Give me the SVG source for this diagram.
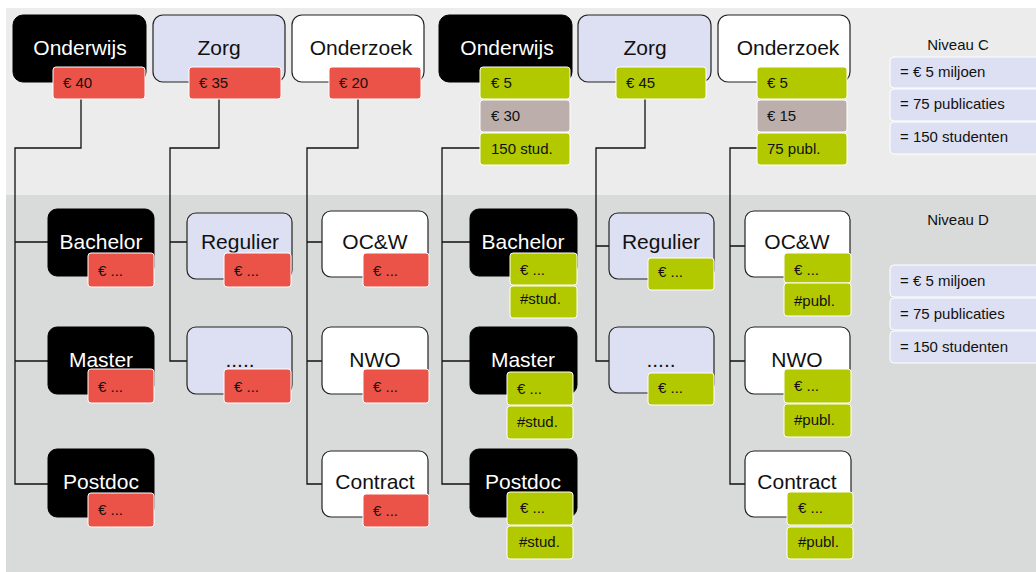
<svg xmlns="http://www.w3.org/2000/svg" width="1036" height="572" viewBox="0 0 1036 572">
<style>
text{font-family:"Liberation Sans",Arial,sans-serif;fill:#111}
.t{font-size:21px;text-anchor:middle}
.tw{fill:#fff}
.s{font-size:15px}
.h{font-size:15px;text-anchor:middle}
.blk{fill:#000;stroke:#000;stroke-width:1}
.lav{fill:#dde0f3;stroke:#222;stroke-width:1.2}
.wht{fill:#fff;stroke:#222;stroke-width:1.2}
.red{fill:#eb5248;stroke:#fff;stroke-width:1}
.grn{fill:#b2c900;stroke:#fff;stroke-width:1}
.gry{fill:#bcafab;stroke:#fff;stroke-width:1}
.leg{fill:#dde0f3;stroke:#fff;stroke-width:1}
#connectors path{fill:none;stroke:#111;stroke-width:1.3}
</style>
<rect x="0" y="0" width="1036" height="572" fill="#fff"/>
<rect x="6" y="8" width="1030" height="187" fill="#ececec"/>
<rect x="6" y="195" width="1030" height="377" fill="#d9dbda"/>
<g id="connectors">
<path d="M81 99V148H15V484H48M15 242H48M15 361H48"/>
<path d="M219 99V148H170V361H187M170 242H187"/>
<path d="M358 99V148H307V484H322M307 242H322M307 361H322"/>
<path d="M480 148H442V484H470M442 242H470M442 361H470"/>
<path d="M645 99V148H596V361H609M596 246H609"/>
<path d="M757 148H730V484H745M730 246H745M730 361H745"/>
</g>
<g id="c-onderwijs1"><rect class="blk" x="13" y="15" width="133" height="67" rx="10"/><text class="t tw" x="80" y="55">Onderwijs</text><rect class="red" x="53" y="67" width="92" height="32" rx="3"/><text class="s" x="63" y="88">€ 40</text></g>
<g id="c-zorg1"><rect class="lav" x="153" y="15" width="132" height="67" rx="10"/><text class="t" x="219" y="55">Zorg</text><rect class="red" x="189" y="67" width="92" height="32" rx="3"/><text class="s" x="199" y="88">€ 35</text></g>
<g id="c-onderzoek1"><rect class="wht" x="292" y="15" width="132" height="67" rx="10"/><text class="t" x="361" y="55">Onderzoek</text><rect class="red" x="329" y="67" width="92" height="32" rx="3"/><text class="s" x="339" y="88">€ 20</text></g>
<g id="c-onderwijs2"><rect class="blk" x="439" y="15" width="133" height="67" rx="10"/><text class="t tw" x="507" y="55">Onderwijs</text><rect class="grn" x="480" y="67" width="90" height="32" rx="3"/><text class="s" x="491" y="88">€ 5</text><rect class="gry" x="480" y="100" width="90" height="32" rx="3"/><text class="s" x="491" y="121">€ 30</text><rect class="grn" x="480" y="133" width="90" height="32" rx="3"/><text class="s" x="491" y="154">150 stud.</text></g>
<g id="c-zorg2"><rect class="lav" x="578" y="15" width="133" height="67" rx="10"/><text class="t" x="645" y="55">Zorg</text><rect class="grn" x="616" y="67" width="90" height="32" rx="3"/><text class="s" x="626" y="88">€ 45</text></g>
<g id="c-onderzoek2"><rect class="wht" x="718" y="15" width="132" height="67" rx="10"/><text class="t" x="788" y="55">Onderzoek</text><rect class="grn" x="757" y="67" width="90" height="32" rx="3"/><text class="s" x="767" y="88">€ 5</text><rect class="gry" x="757" y="100" width="90" height="32" rx="3"/><text class="s" x="767" y="121">€ 15</text><rect class="grn" x="757" y="133" width="90" height="32" rx="3"/><text class="s" x="767" y="154">75 publ.</text></g>
<g id="legend-c"><text class="h" x="958" y="50">Niveau C</text><rect class="leg" x="890" y="57" width="152" height="31" rx="4"/><text class="s" x="900" y="77">= € 5 miljoen</text><rect class="leg" x="890" y="89" width="152" height="32" rx="4"/><text class="s" x="900" y="109">= 75 publicaties</text><rect class="leg" x="890" y="122" width="152" height="32" rx="4"/><text class="s" x="900" y="142">= 150 studenten</text></g>
<g id="legend-d"><text class="h" x="958" y="225">Niveau D</text><rect class="leg" x="890" y="265" width="152" height="32" rx="4"/><text class="s" x="900" y="286">= € 5 miljoen</text><rect class="leg" x="890" y="298" width="152" height="32" rx="4"/><text class="s" x="900" y="319">= 75 publicaties</text><rect class="leg" x="890" y="331" width="152" height="32" rx="4"/><text class="s" x="900" y="352">= 150 studenten</text></g>
<g id="d-bachelor1"><rect class="blk" x="48" y="209" width="106" height="67" rx="9"/><text class="t tw" x="101" y="249">Bachelor</text><rect class="red" x="88" y="253" width="66" height="34" rx="3"/><text class="s" x="98" y="276">€ ...</text></g>
<g id="d-master1"><rect class="blk" x="48" y="327" width="106" height="67" rx="9"/><text class="t tw" x="101" y="367">Master</text><rect class="red" x="88" y="369" width="66" height="34" rx="3"/><text class="s" x="98" y="392">€ ...</text></g>
<g id="d-postdoc1"><rect class="blk" x="48" y="449" width="106" height="68" rx="9"/><text class="t tw" x="101" y="489">Postdoc</text><rect class="red" x="88" y="493" width="66" height="34" rx="3"/><text class="s" x="98" y="515">€ ...</text></g>
<g id="d-regulier1"><rect class="lav" x="187" y="213" width="105" height="66" rx="9"/><text class="t" x="240" y="249">Regulier</text><rect class="red" x="224" y="253" width="67" height="34" rx="3"/><text class="s" x="234" y="276">€ ...</text></g>
<g id="d-other1"><rect class="lav" x="187" y="327" width="105" height="67" rx="9"/><text class="t" x="240" y="367">.....</text><rect class="red" x="224" y="369" width="67" height="34" rx="3"/><text class="s" x="234" y="392">€ ...</text></g>
<g id="d-ocw1"><rect class="wht" x="322" y="211" width="106" height="66" rx="9"/><text class="t" x="375" y="249">OC&amp;W</text><rect class="red" x="363" y="253" width="66" height="34" rx="3"/><text class="s" x="373" y="276">€ ...</text></g>
<g id="d-nwo1"><rect class="wht" x="322" y="327" width="106" height="67" rx="9"/><text class="t" x="375" y="367">NWO</text><rect class="red" x="363" y="369" width="66" height="34" rx="3"/><text class="s" x="373" y="392">€ ...</text></g>
<g id="d-contract1"><rect class="wht" x="322" y="451" width="106" height="66" rx="9"/><text class="t" x="375" y="489">Contract</text><rect class="red" x="363" y="494" width="66" height="33" rx="3"/><text class="s" x="373" y="516">€ ...</text></g>
<g id="d-bachelor2"><rect class="blk" x="470" y="209" width="107" height="67" rx="9"/><text class="t tw" x="523" y="249">Bachelor</text><rect class="grn" x="510" y="253" width="67" height="32" rx="3"/><text class="s" x="520" y="275">€ ...</text><rect class="grn" x="510" y="286" width="67" height="32" rx="3"/><text class="s" x="520" y="304">#stud.</text></g>
<g id="d-master2"><rect class="blk" x="470" y="327" width="107" height="67" rx="9"/><text class="t tw" x="523" y="367">Master</text><rect class="grn" x="507" y="372" width="66" height="33" rx="3"/><text class="s" x="517" y="394">€ ...</text><rect class="grn" x="507" y="406" width="66" height="33" rx="3"/><text class="s" x="517" y="427">#stud.</text></g>
<g id="d-postdoc2"><rect class="blk" x="470" y="449" width="107" height="68" rx="9"/><text class="t tw" x="523" y="489">Postdoc</text><rect class="grn" x="507" y="492" width="66" height="33" rx="3"/><text class="s" x="520" y="513">€ ...</text><rect class="grn" x="507" y="526" width="66" height="33" rx="3"/><text class="s" x="519" y="547">#stud.</text></g>
<g id="d-regulier2"><rect class="lav" x="609" y="213" width="105" height="66" rx="9"/><text class="t" x="661" y="249">Regulier</text><rect class="grn" x="648" y="258" width="66" height="32" rx="3"/><text class="s" x="658" y="277">€ ...</text></g>
<g id="d-other2"><rect class="lav" x="609" y="327" width="105" height="66" rx="9"/><text class="t" x="661" y="367">.....</text><rect class="grn" x="648" y="373" width="66" height="32" rx="3"/><text class="s" x="658" y="393">€ ...</text></g>
<g id="d-ocw2"><rect class="wht" x="745" y="211" width="105" height="66" rx="9"/><text class="t" x="797" y="249">OC&amp;W</text><rect class="grn" x="784" y="253" width="67" height="30" rx="3"/><text class="s" x="794" y="275">€ ...</text><rect class="grn" x="784" y="283" width="67" height="33" rx="3"/><text class="s" x="794" y="306">#publ.</text></g>
<g id="d-nwo2"><rect class="wht" x="745" y="327" width="105" height="67" rx="9"/><text class="t" x="797" y="367">NWO</text><rect class="grn" x="784" y="369" width="67" height="34" rx="3"/><text class="s" x="794" y="391">€ ...</text><rect class="grn" x="784" y="404" width="67" height="33" rx="3"/><text class="s" x="794" y="425">#publ.</text></g>
<g id="d-contract2"><rect class="wht" x="745" y="451" width="106" height="66" rx="9"/><text class="t" x="797" y="489">Contract</text><rect class="grn" x="787" y="492" width="66" height="33" rx="3"/><text class="s" x="798" y="513">€ ...</text><rect class="grn" x="787" y="527" width="66" height="32" rx="3"/><text class="s" x="798" y="547">#publ.</text></g>
</svg>
